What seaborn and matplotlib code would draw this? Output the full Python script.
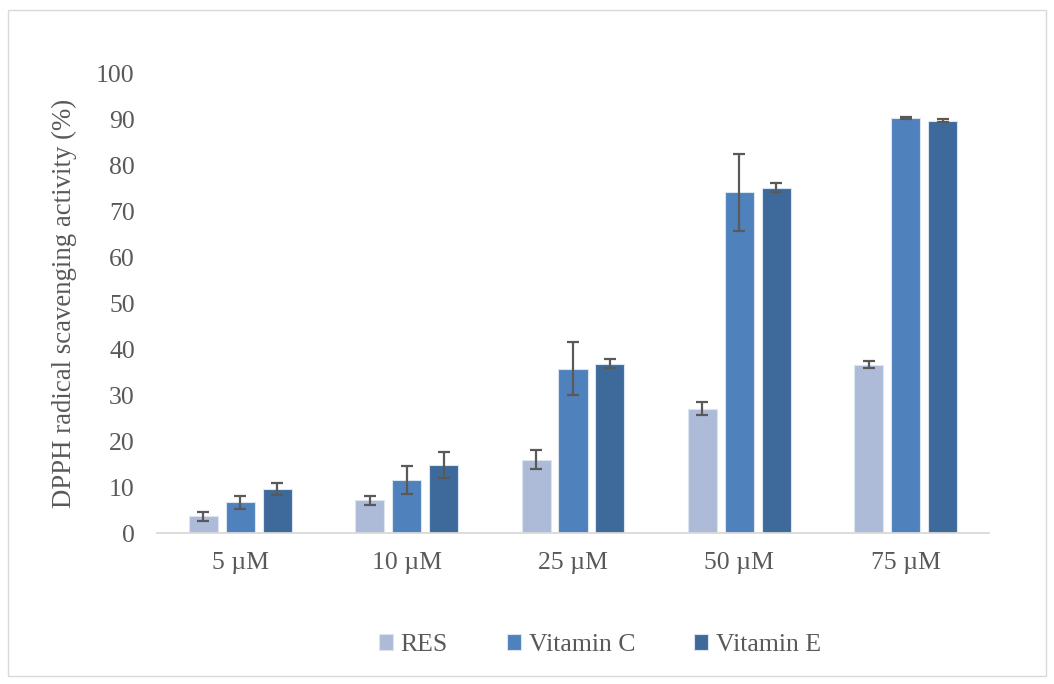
import matplotlib
matplotlib.use("Agg")
import matplotlib.pyplot as plt
import seaborn as sns
import pandas as pd
import numpy as np

sns.set_style("white")
plt.rcParams['font.family'] = ['Liberation Serif', 'DejaVu Serif']

concentrations = ['5 µM', '10 µM', '25 µM', '50 µM', '75 µM']
treatments = ['RES', 'Vitamin C', 'Vitamin E']
res_mean = [3.6, 7.1, 16.0, 27.1, 36.7]
vitc_mean = [6.7, 11.5, 35.8, 74.2, 90.5]
vite_mean = [9.6, 14.8, 36.9, 75.2, 89.8]
res_err = [0.9, 1.0, 2.1, 1.4, 0.7]
vitc_err = [1.4, 3.0, 5.8, 8.3, 0.2]
vite_err = [1.4, 2.8, 1.0, 1.0, 0.3]
colors = ['#ADBBD8', '#4F81BD', '#3E6A9B']

rows = []
for t, means, errs in zip(treatments, [res_mean, vitc_mean, vite_mean],
                          [res_err, vitc_err, vite_err]):
    for c, m, e in zip(concentrations, means, errs):
        rows.append({'conc': c, 'treatment': t, 'value': m, 'err': e})
df = pd.DataFrame(rows)

fig = plt.figure(figsize=(10.54, 6.84), dpi=100)
# plot area: x 157..989 px, y 74..533 px
ax = fig.add_axes([157 / 1054, 1 - 533 / 684, 832 / 1054, 459 / 684])

sns.barplot(data=df, x='conc', y='value', hue='treatment', order=concentrations,
            hue_order=treatments, palette=colors, saturation=1, width=0.667, gap=0.216,
            errorbar=None, edgecolor='#dce4ef', linewidth=0.8, ax=ax)

# error bars at the bar centres drawn by seaborn
for t, container in zip(treatments, ax.containers):
    sub = df[df.treatment == t].set_index('conc').loc[concentrations]
    xs = [p.get_x() + p.get_width() / 2 for p in container.patches]
    ax.errorbar(xs, sub['value'].values, yerr=sub['err'].values, fmt='none',
                ecolor='#595959', elinewidth=1.6, capsize=4.3, capthick=1.6, zorder=5)

ax.set_ylim(0, 100)
ax.set_yticks(np.arange(0, 101, 10))
ax.set_xlim(-0.5, 4.5)
for s in ['top', 'right', 'left']:
    ax.spines[s].set_visible(False)
ax.spines['bottom'].set_color('#d9d9d9')
ax.spines['bottom'].set_linewidth(1.3)
ax.tick_params(axis='y', length=0, labelsize=18.5, labelcolor='#595959', pad=16)
ax.tick_params(axis='x', length=0, labelsize=18.5, labelcolor='#595959', pad=14)
ax.set_xlabel('')
ax.set_ylabel('DPPH radical scavenging activity (%)', fontsize=19.3, color='#595959',
              labelpad=14)

leg = ax.legend(loc='center', bbox_to_anchor=(600 / 1054, 1 - 645 / 684),
                bbox_transform=fig.transFigure, ncol=3, frameon=False,
                fontsize=18.5, handlelength=0.55, handleheight=0.55, handletextpad=0.3,
                columnspacing=2.3, labelcolor='#595959')

# outer chart border
fig.patches.append(plt.Rectangle((0.008, 0.012), 0.984, 0.973, transform=fig.transFigure,
                                 fill=False, edgecolor='#d9d9d9', linewidth=1.0))

fig.savefig('out.png', dpi=100)
